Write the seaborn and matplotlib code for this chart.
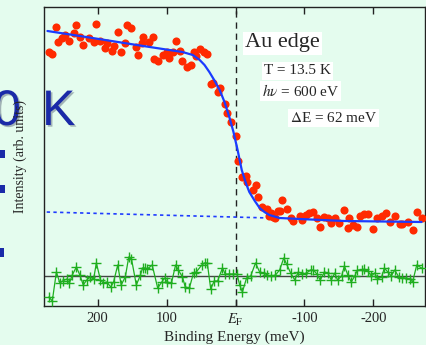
import numpy as np
import pandas as pd
import matplotlib
matplotlib.use("Agg")
import matplotlib.pyplot as plt
import matplotlib.patheffects as pe
from matplotlib.patches import Rectangle
import seaborn as sns

# ---- data (binding energy in meV, intensity in arb. units) ----
red_E = [271, 266, 260, 257, 252, 247, 241, 235, 231, 226, 221, 213, 206, 202, 196, 190, 187, 180,
         176, 171, 166, 161, 157, 151, 145, 141, 136, 134, 126, 120, 118, 112, 106, 100, 96, 91, 86,
         81, 77, 71, 65, 61, 57, 51, 46, 42, 36, 33, 26, 22, 16, 12, 6, 0, -3, -9, -15, -17, -25,
         -29, -33, -39, -45, -49, -52, -55, -58, -61, -64, -68, -74, -80, -84, -93, -97, -103, -107,
         -113, -118, -123, -129, -134, -139, -145, -150, -158, -163, -164, -171, -176, -180, -186,
         -192, -199, -205, -212, -219, -224, -232, -238, -242, -250, -257, -264, -270]
red_I = [254, 252, 279, 264, 268, 271, 265, 273, 281, 269, 261, 268, 264, 282, 265, 258, 263, 255,
         260, 274, 254, 263, 281, 278, 259, 251, 263, 269, 264, 269, 247, 245, 251, 254, 248, 254, 265,
         255, 245, 239, 241, 254, 250, 257, 254, 252, 222, 223, 214, 218, 202, 193, 184, 170, 145, 129,
         130, 124, 116, 121, 109, 99, 97, 90, 93, 89, 88, 95, 95, 106, 97, 88, 85, 90, 86, 91, 93,
         94, 88, 79, 89, 88, 83, 88, 83, 96, 78, 88, 81, 79, 90, 92, 92, 77, 88, 90, 93, 84, 90, 82,
         82, 84, 76, 94, 88]

fit_E = [273, 226, 180, 134, 96, 77, 62, 52, 45, 38, 31, 23, 16, 9, 3, -3, -9, -15, -20, -28, -35,
         -42, -49, -64, -93, -158, -270]
fit_I = [275, 270, 265, 260, 256, 254, 251, 246, 241, 234, 226, 216, 204, 189, 174, 156, 136, 123,
         114, 105, 98, 94, 91, 88, 87, 85, 84]

bg_E = [276, -50]
bg_I = [94, 88]

res_E = [271, 266, 260, 255, 251, 245, 241, 237, 231, 226, 221, 216, 211, 206, 202, 196, 192, 187,
         181, 177, 171, 166, 160, 155, 151, 144, 138, 135, 132, 128, 121, 113, 107, 103, 99, 93, 87,
         83, 77, 73, 67, 61, 57, 49, 45, 41, 36, 31, 26, 19, 15, 10, 4, -2, -6, -10, -16, -22, -29,
         -35, -41, -46, -52, -58, -64, -70, -74, -80, -86, -91, -97, -103, -109, -113, -118, -123,
         -129, -134, -139, -144, -148, -154, -158, -163, -168, -173, -177, -183, -187, -192, -197,
         -202, -206, -212, -216, -221, -226, -231, -237, -242, -248, -253, -257, -263, -270]
res_I = [9, 5, 34, 23, 25, 27, 23, 31, 39, 31, 21, 26, 29, 27, 43, 26, 23, 24, 19, 24, 41, 21, 29,
         49, 47, 21, 31, 38, 38, 37, 41, 18, 24, 28, 24, 23, 41, 36, 29, 19, 18, 33, 34, 41, 43, 43,
         17, 25, 25, 38, 32, 32, 32, 32, 21, 14, 28, 30, 43, 34, 33, 31, 30, 31, 36, 48, 42, 33, 26,
         34, 32, 33, 36, 36, 32, 26, 34, 33, 26, 33, 26, 30, 40, 31, 24, 30, 36, 36, 37, 35, 30, 33,
         27, 29, 38, 34, 30, 36, 29, 28, 28, 27, 24, 41, 38]
zero_level = 30

xticks = [200, 100, 0, -100, -200]
xticklabels = ["200", "100", r"$E_{\rm F}$", "-100", "-200"]

assert len(red_E) == len(red_I)
assert len(fit_E) == len(fit_I)
assert len(res_E) == len(res_I)

red_df = pd.DataFrame({"E": red_E, "I": red_I})
fit_df = pd.DataFrame({"E": fit_E, "I": fit_I})
bg_df = pd.DataFrame({"E": bg_E, "I": bg_I})
res_df = pd.DataFrame({"E": res_E, "I": res_I})

# ---- style ----
BG = "#e4fcee"
sns.set_theme(style="white")
plt.rcParams["font.family"] = ["Liberation Serif", "DejaVu Serif"]
plt.rcParams["mathtext.fontset"] = "stix"

fig = plt.figure(figsize=(4.27, 3.45), dpi=100, facecolor=BG)
W, H = 427, 345
ax = fig.add_axes([44 / W, 1 - 306 / H, (425 - 44) / W, (306 - 7) / H])
ax.set_facecolor(BG)

# reference lines
ax.axvline(0, color="#222222", lw=1.0, ls=(0, (4.5, 3.5)), zorder=1)
ax.axhline(zero_level, color="#444444", lw=1.0, zorder=1)

# residual
sns.lineplot(data=res_df, x="E", y="I", ax=ax, color="#1fae1f", lw=0.9, marker="+",
             markersize=7, markeredgewidth=1.0, markeredgecolor="#1fae1f",
             estimator=None, sort=True, zorder=3)

# background line
sns.lineplot(data=bg_df, x="E", y="I", ax=ax, color="#1f3cff", lw=1.2,
             linestyle=(0, (2, 2)), estimator=None, zorder=2)

# data points
sns.scatterplot(data=red_df, x="E", y="I", ax=ax, color="#ff2a00", s=34, linewidth=0,
                zorder=4)

# fit curve
sns.lineplot(data=fit_df, x="E", y="I", ax=ax, color="#1a3cff", lw=1.6,
             estimator=None, zorder=5)

ax.set_xlim(278, -275)
ax.set_ylim(0, 299)
ax.set_xticks(xticks)
ax.set_xticklabels(xticklabels, fontsize=10.5)
ax.set_yticks([])
ax.tick_params(axis="x", direction="in", length=5, width=1, color="#222222",
               top=True, bottom=True, pad=4)
for s in ax.spines.values():
    s.set_visible(True)
    s.set_color("#222222")
    s.set_linewidth(1.0)

ax.set_xlabel("Binding Energy (meV)", fontsize=11, labelpad=2)
ax.set_ylabel("Intensity (arb. units)", fontsize=10, labelpad=12)

# annotations
box = dict(facecolor="white", edgecolor="none", pad=1.5)
fig.text(245 / W, 1 - 43 / H, "Au edge", fontsize=16, va="center", ha="left", bbox=box)
fig.text(264 / W, 1 - 71 / H, "T = 13.5 K", fontsize=11, va="center", ha="left", bbox=box)
fig.text(262 / W, 1 - 91 / H, r"$h\nu$ = 600 eV", fontsize=11, va="center", ha="left", bbox=box)
fig.text(290 / W, 1 - 118 / H, r"$\Delta$E = 62 meV", fontsize=11, va="center", ha="left", bbox=box)

# slide decoration (blue title text partially visible)
shadow = [pe.SimplePatchShadow(offset=(1.2, -1.2), alpha=0.3), pe.Normal()]
fig.text(21 / W, 1 - 125 / H, "0", fontsize=36, color="#1a2aa8", ha="right", va="baseline",
         family=["Liberation Sans", "DejaVu Sans"], path_effects=shadow, zorder=-1)
fig.text(42 / W, 1 - 125 / H, "K", fontsize=36, color="#1a2aa8", ha="left", va="baseline",
         family=["Liberation Sans", "DejaVu Sans"], path_effects=shadow, zorder=6)
for (x0, y0, w, h) in [(0, 150, 5, 8), (0, 185, 5, 8), (0, 248, 4, 9)]:
    fig.add_artist(Rectangle((x0 / W, 1 - (y0 + h) / H), w / W, h / H,
                             transform=fig.transFigure, facecolor="#1a2aa8",
                             edgecolor="none"))

fig.savefig("out.png", dpi=100, facecolor=BG)
